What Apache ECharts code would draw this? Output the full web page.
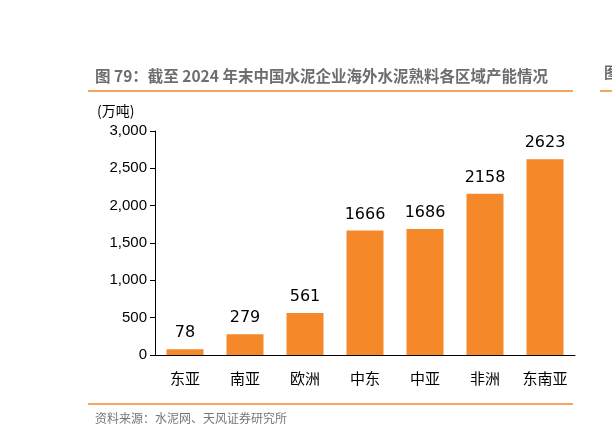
<!DOCTYPE html>
<html>
<head>
<meta charset="utf-8">
<script src="https://cdn.jsdelivr.net/npm/echarts@6/dist/echarts.min.js"></script>
<style>body{margin:0;background:#fff}#c{width:612px;height:440px}</style>
</head>
<body>
<div id="c"></div>
<script>
const regions = ['东亚', '南亚', '欧洲', '中东', '中亚', '非洲', '东南亚'];
const capacity = [78, 279, 561, 1666, 1686, 2158, 2623];

const chart = echarts.init(document.getElementById('c'));
const font = '"Noto Sans CJK SC", sans-serif';
chart.setOption({
  animation: false,
  backgroundColor: '#fff',
  title: {
    text: '图 79：截至 2024 年末中国水泥企业海外水泥熟料各区域产能情况',
    left: 90, top: 63,
    textStyle: { fontSize: 15.5, fontWeight: 'bold', color: '#6d6d6d', fontFamily: font }
  },
  graphic: [
    { type: 'line', shape: { x1: 88, y1: 91, x2: 573, y2: 91 }, style: { stroke: '#f08a24', lineWidth: 1.5 } },
    { type: 'line', shape: { x1: 88, y1: 404, x2: 573, y2: 404 }, style: { stroke: '#f08a24', lineWidth: 1.5 } },
    { type: 'text', left: 95, top: 412, style: { text: '资料来源：水泥网、天风证券研究所', fontSize: 12, fill: '#777', fontFamily: font } },
    { type: 'text', left: 97, top: 104, style: { text: '(万吨)', fontSize: 14, fill: '#000', fontFamily: font } },
    { type: 'text', left: 604, top: 65, style: { text: '图', fontSize: 15, fontWeight: 'bold', fill: '#6d6d6d', fontFamily: font } },
    { type: 'line', shape: { x1: 600, y1: 91, x2: 612, y2: 91 }, style: { stroke: '#f08a24', lineWidth: 1.5 } }
  ],
  grid: { left: 155, right: 37, top: 131, bottom: 85 },
  xAxis: {
    type: 'category', data: regions,
    axisLine: { lineStyle: { color: '#000' } },
    axisTick: { show: false },
    axisLabel: { fontSize: 15, color: '#000', margin: 16, fontFamily: font }
  },
  yAxis: {
    type: 'value', min: 0, max: 3000, interval: 500,
    axisLine: { show: true, lineStyle: { color: '#000' } },
    axisTick: { show: true, inside: false, length: 5 },
    splitLine: { show: false },
    axisLabel: { fontSize: 15, color: '#000', fontFamily: 'Liberation Sans', formatter: v => v.toLocaleString('en-US') }
  },
  series: [{
    type: 'bar', data: capacity, barWidth: 37,
    itemStyle: { color: '#f5892a' },
    label: { show: true, position: 'top', distance: 8, fontSize: 16, color: '#000', fontFamily: 'DejaVu Sans' }
  }]
});
</script>
</body>
</html>
